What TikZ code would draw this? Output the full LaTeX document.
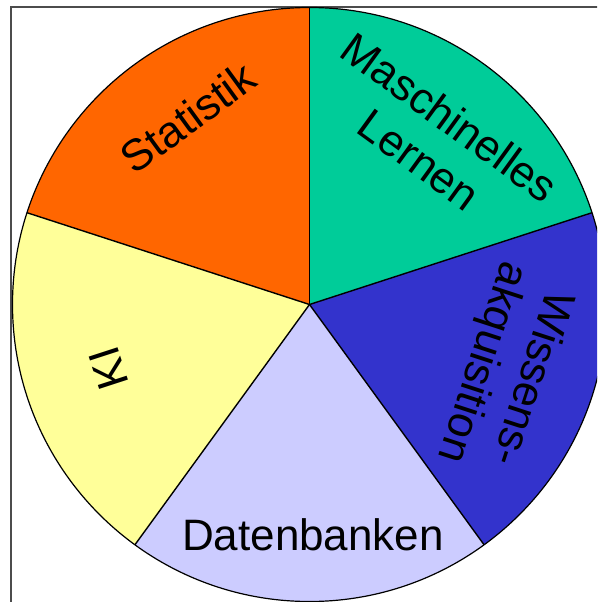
\documentclass[tikz,border=0pt]{standalone}
\usepackage{fontspec}
\setmainfont{Liberation Sans}
\begin{document}
\begin{tikzpicture}[x=1pt,y=1pt,
  edge/.style={black,line width=1.4pt},
  lbl/.style={font=\fontsize{44}{52}\selectfont,align=center,inner sep=0pt}]
\useasboundingbox (0,0) rectangle (597,-602);
\clip (0,0) rectangle (597,-602);
\definecolor{cStat}{HTML}{FF6600}
\definecolor{cML}{HTML}{00CC99}
\definecolor{cWiss}{HTML}{3333CC}
\definecolor{cDB}{HTML}{CCCCFF}
\definecolor{cKI}{HTML}{FFFF99}
% outer frame
\draw[gray!60!black,line width=1.5pt] (11,-7) rectangle (620,-620);
\begin{scope}[shift={(309.5,-304.5)}]
  \def\r{297}
  \coordinate (c) at (0,0);
  % five equal slices
  \fill[cML]   (c) -- (90:\r)  arc[start angle=90,  end angle=18,   radius=\r] -- cycle;
  \fill[cWiss] (c) -- (18:\r)  arc[start angle=18,  end angle=-54,  radius=\r] -- cycle;
  \fill[cDB]   (c) -- (-54:\r) arc[start angle=-54, end angle=-126, radius=\r] -- cycle;
  \fill[cKI]   (c) -- (-126:\r) arc[start angle=-126, end angle=-198, radius=\r] -- cycle;
  \fill[cStat] (c) -- (162:\r) arc[start angle=162, end angle=90,   radius=\r] -- cycle;
  % slice borders and rim
  \foreach \a in {90,18,-54,-126,162} \draw[edge] (c) -- (\a:\r);
  \draw[black,line width=1.2pt] (c) circle[radius=\r];
  % labels
  \node[lbl,rotate=36]   (stat) at (123:223) {Statistik};
  \node[lbl,rotate=-36]  (ml)   at (53:208)  {Maschinelles\\Lernen};
  \node[lbl,rotate=-108] (wiss) at (-18.5:207) {Wissens-\\akquisition};
  \node[lbl]             (db)   at (3.5,-230) {Datenbanken};
  \node[lbl,rotate=108]  (ki)   at (197.5:211) {KI};
\end{scope}
\end{tikzpicture}
\end{document}
